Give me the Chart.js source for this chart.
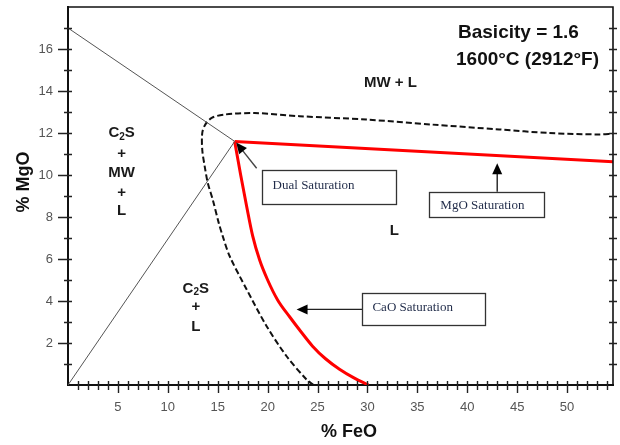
<!DOCTYPE html>
<html><head><meta charset="utf-8">
<script src="https://cdn.jsdelivr.net/npm/chart.js@4/dist/chart.umd.min.js"></script>
<style>html,body{margin:0;padding:0;background:#fff}#wrap{width:620px;height:445px;position:relative}</style>
</head><body><div id="wrap"><canvas id="c"></canvas></div>
<script>
// ---- data (axis units: % FeO, % MgO) ----
const mwBoundFeO = [0, 16.7];
const mwBoundMgO = [17.0, 11.6];
const c2sBoundFeO = [0, 16.7];
const c2sBoundMgO = [0, 11.6];
const mgoSatFeO = [16.7, 54.6];
const mgoSatMgO = [11.6, 10.63];
const caoSatFeO = [16.7, 17.3, 17.9, 18.5, 19.2, 20.0, 21.0, 22.2, 23.4, 24.5, 25.8, 27.2, 28.6, 30.1];
const caoSatMgO = [11.6, 10.0, 8.5, 7.1, 5.95, 5.0, 4.05, 3.25, 2.5, 1.85, 1.25, 0.75, 0.35, 0];
const liqFeO = [24.6, 23.9, 21.9, 19.9, 17.9, 16.2, 15.5, 15.1, 14.5, 14.0, 13.7, 13.45, 13.45, 13.75, 14.4, 15.7, 18.7, 23.2, 29.9, 36.5, 43.2, 48.2, 53.2, 54.6];
const liqMgO = [0, 0.26, 1.37, 2.8, 4.55, 6.13, 7.09, 7.72, 8.83, 9.63, 10.4, 11.2, 12.0, 12.4, 12.72, 12.88, 12.95, 12.8, 12.64, 12.4, 12.17, 12.0, 11.93, 11.97];
const xTickLabels = [5, 10, 15, 20, 25, 30, 35, 40, 45, 50];
const yTickLabels = [2, 4, 6, 8, 10, 12, 14, 16];

const SANS = '"Liberation Sans", Arial, Helvetica, sans-serif';
const SERIF = '"Liberation Serif", "Times New Roman", serif';
const pts = (xs, ys) => xs.map((v, i) => ({x: v, y: ys[i]}));

const decor = {
  id: 'decor',
  afterDraw(chart) {
    const {ctx, chartArea: a, scales: {x, y}} = chart;
    const X = v => x.getPixelForValue(v), Y = v => y.getPixelForValue(v);
    ctx.save();
    // frame top/right
    ctx.strokeStyle = '#111'; ctx.lineWidth = 1.6;
    ctx.beginPath(); ctx.moveTo(a.left, a.top); ctx.lineTo(a.right, a.top); ctx.lineTo(a.right, a.bottom); ctx.stroke();
    // tick marks
    ctx.lineWidth = 1.4; ctx.strokeStyle = '#222';
    ctx.beginPath();
    for (let v = 1; v <= 17; v++) {
      const py = Math.round(Y(v)) + 0.5, major = v % 2 === 0;
      ctx.moveTo(a.left - (major ? 10 : 4), py); ctx.lineTo(a.left + 4, py);
      ctx.moveTo(a.right - 4, py); ctx.lineTo(a.right + 4, py);
    }
    for (let v = 1; v <= 54; v++) {
      const px = Math.round(X(v)) + 0.5, major = v % 5 === 0;
      ctx.moveTo(px, a.bottom - 4); ctx.lineTo(px, a.bottom + (major ? 8 : 5));
    }
    ctx.stroke();

    // arrows
    function arrow(x1, y1, x2, y2, color) {
      const p1 = [X(x1), Y(y1)], p2 = [X(x2), Y(y2)];
      const ang = Math.atan2(p2[1] - p1[1], p2[0] - p1[0]);
      const L = 11, W = 5;
      ctx.strokeStyle = color; ctx.fillStyle = '#000'; ctx.lineWidth = 1.4;
      ctx.beginPath(); ctx.moveTo(p1[0], p1[1]);
      ctx.lineTo(p2[0] - Math.cos(ang) * L * 0.8, p2[1] - Math.sin(ang) * L * 0.8); ctx.stroke();
      ctx.beginPath(); ctx.moveTo(p2[0], p2[1]);
      ctx.lineTo(p2[0] - Math.cos(ang) * L + Math.sin(ang) * W, p2[1] - Math.sin(ang) * L - Math.cos(ang) * W);
      ctx.lineTo(p2[0] - Math.cos(ang) * L - Math.sin(ang) * W, p2[1] - Math.sin(ang) * L + Math.cos(ang) * W);
      ctx.closePath(); ctx.fill();
    }
    arrow(18.9, 10.32, 16.85, 11.55, '#444');
    arrow(43.0, 9.2, 43.0, 10.56, '#222');
    arrow(29.5, 3.6, 22.9, 3.6, '#222');

    // boxes
    function box(x1, y1, x2, y2, text, tx, ty) {
      const l = Math.round(X(x1)) + 0.5, t = Math.round(Y(y1)) + 0.5, r = Math.round(X(x2)) + 0.5, b = Math.round(Y(y2)) + 0.5;
      ctx.fillStyle = '#fff'; ctx.fillRect(l, t, r - l, b - t);
      ctx.strokeStyle = '#333'; ctx.lineWidth = 1.3; ctx.strokeRect(l, t, r - l, b - t);
      ctx.fillStyle = '#1f2a48'; ctx.font = '13px ' + SERIF; ctx.textAlign = 'left'; ctx.textBaseline = 'middle';
      ctx.fillText(text, X(tx), Y(ty));
    }
    box(19.4, 10.26, 32.9, 8.62, 'Dual Saturation', 20.5, 9.5);
    box(36.2, 9.2, 47.7, 7.99, 'MgO Saturation', 37.3, 8.55);
    box(29.5, 4.37, 41.8, 2.86, 'CaO Saturation', 30.5, 3.7);

    // region labels
    ctx.fillStyle = '#1a1a1a'; ctx.textBaseline = 'middle';
    function lbl(text, vx, vy) {
      ctx.font = 'bold 15px ' + SANS; ctx.textAlign = 'center';
      ctx.fillText(text, X(vx), Y(vy));
    }
    function c2s(vx, vy) {
      const big = 'bold 15px ' + SANS, small = 'bold 10px ' + SANS;
      ctx.textAlign = 'left';
      ctx.font = big; const wc = ctx.measureText('C').width, ws = ctx.measureText('S').width;
      ctx.font = small; const w2 = ctx.measureText('2').width;
      let px = X(vx) - (wc + w2 + ws) / 2; const py = Y(vy);
      ctx.font = big; ctx.fillText('C', px, py); px += wc;
      ctx.font = small; ctx.fillText('2', px, py + 4); px += w2;
      ctx.font = big; ctx.fillText('S', px, py);
    }
    lbl('MW + L', 32.3, 14.4);
    lbl('L', 32.7, 7.35);
    c2s(5.37, 11.99); lbl('+', 5.37, 11.03); lbl('MW', 5.37, 10.08); lbl('+', 5.37, 9.16); lbl('L', 5.37, 8.3);
    c2s(12.8, 4.6); lbl('+', 12.8, 3.7); lbl('L', 12.8, 2.78);

    // header text
    ctx.fillStyle = '#111'; ctx.textAlign = 'left';
    ctx.font = 'bold 19px ' + SANS; ctx.fillText('Basicity = 1.6', 458, 33);
    ctx.font = 'bold 19px ' + SANS; ctx.fillText('1600°C (2912°F)', 456, 60);

    // axis titles
    ctx.font = 'bold 18px ' + SANS; ctx.textAlign = 'center';
    ctx.fillText('% FeO', 349, 432);
    ctx.translate(24, 182); ctx.rotate(-Math.PI / 2); ctx.fillText('% MgO', 0, 0);
    ctx.restore();
  }
};

const tickFont = {family: SANS, size: 13};
new Chart(document.getElementById('c'), {
  type: 'scatter',
  data: {datasets: [
    {data: pts(mwBoundFeO, mwBoundMgO), showLine: true, borderColor: '#555', borderWidth: 1, pointRadius: 0},
    {data: pts(c2sBoundFeO, c2sBoundMgO), showLine: true, borderColor: '#555', borderWidth: 1, pointRadius: 0},
    {data: pts(liqFeO, liqMgO), showLine: true, borderColor: '#111', borderWidth: 2, borderDash: [6, 3], tension: 0.3, pointRadius: 0},
    {data: pts(mgoSatFeO, mgoSatMgO), showLine: true, borderColor: '#ff0000', borderWidth: 3, pointRadius: 0},
    {data: pts(caoSatFeO, caoSatMgO), showLine: true, borderColor: '#ff0000', borderWidth: 3, cubicInterpolationMode: 'monotone', pointRadius: 0}
  ]},
  options: {
    responsive: true, maintainAspectRatio: false, animation: false,
    layout: {padding: {top: 7, right: 7, left: 0, bottom: 0}},
    plugins: {legend: {display: false}, tooltip: {enabled: false}},
    scales: {
      x: {
        type: 'linear', min: 0, max: 54.6,
        afterFit(s) { s.height = 60; s.paddingLeft = 0; s.paddingRight = 0; },
        grid: {display: false, drawTicks: false},
        border: {display: true, color: '#111', width: 2},
        ticks: {stepSize: 5, padding: 15, color: '#555', font: tickFont, autoSkip: false, maxRotation: 0,
          callback: v => xTickLabels.includes(v) ? String(v) : ''}
      },
      y: {
        type: 'linear', min: 0, max: 18,
        afterFit(s) { s.width = 68; s.paddingTop = 0; s.paddingBottom = 0; },
        grid: {display: false, drawTicks: false},
        border: {display: true, color: '#111', width: 2},
        ticks: {stepSize: 2, padding: 15, color: '#555', font: tickFont, autoSkip: false,
          callback: v => yTickLabels.includes(v) ? String(v) : ''}
      }
    }
  },
  plugins: [decor]
});
</script></body></html>
